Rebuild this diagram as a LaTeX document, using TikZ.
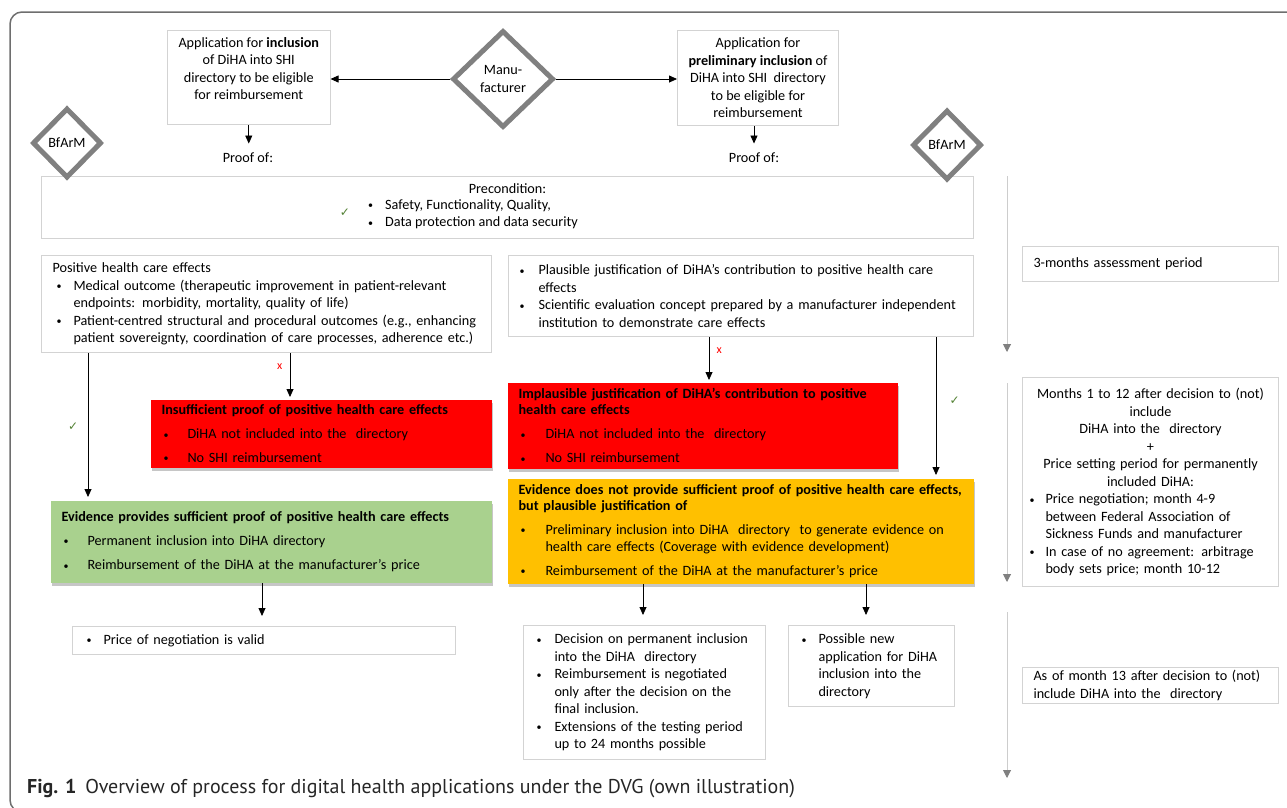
\documentclass[tikz,border=0pt]{standalone}
\usepackage{fontspec}
\setmainfont{Carlito}
\newfontfamily\capfont{PT Sans}
\newfontfamily\symfont{DejaVu Sans}
\usetikzlibrary{shapes.geometric,arrows.meta,shadows}
\definecolor{boxline}{HTML}{D3D3D3}
\definecolor{diagray}{HTML}{808080}
\definecolor{framegray}{HTML}{6E6E6E}
\definecolor{redfill}{HTML}{FF0000}
\definecolor{greenfill}{HTML}{A9D18E}
\definecolor{orangefill}{HTML}{FFC000}
\definecolor{checkgreen}{HTML}{548235}
\definecolor{tlgray}{HTML}{CDCDCD}
\newcommand{\itm}[1][17pt]{\makebox[#1][l]{\raisebox{0.5pt}{\fontsize{10}{10}\selectfont\textbullet}}}
\newcommand{\ind}[1][17pt]{\hspace*{#1}}
\newcommand{\chk}{{\symfont\fontsize{12}{12}\selectfont\color{checkgreen}\char"2713}}
\begin{document}
\begin{tikzpicture}[x=1pt,y=-1pt,font=\fontsize{14.2}{17.5}\selectfont,
	box/.style={draw=boxline,line width=1pt,fill=white,anchor=north west,inner xsep=11pt,inner ysep=0pt,align=left},
	fillbox/.style={box,draw=none,drop shadow={shadow xshift=1pt,shadow yshift=-3pt,opacity=.45}},
	agent/.style={diamond,draw=diagray,line width=5pt,fill=white,inner sep=0pt,aspect=1,align=center},
	arr/.style={-{Triangle[width=7pt,length=8pt]},line width=0.8pt},
	tl/.style={-{Triangle[width=8pt,length=8pt,color=diagray]},draw=tlgray,line width=1pt},
	nolabel/.style={text=red,font=\fontsize{12}{12}\selectfont}]
	\useasboundingbox (0,0) rectangle (1287,807);
	\draw[framegray,line width=1.5pt,rounded corners=12pt] (10,12) rectangle (1300,812);

	\node[box,align=center,minimum width=161pt,minimum height=94pt] (appl) at (167,30) {Application for \textbf{inclusion}\\of DiHA into SHI\\directory to be eligible\\for reimbursement\\\mbox{}};
	\node[box,align=center,minimum width=160pt,minimum height=95pt] (appr) at (677,30) {Application for\\\textbf{preliminary inclusion} of\\DiHA into SHI\ \ directory\\to be eligible for\\reimbursement};
	\node (proofl) at (248,158) {Proof of:};
	\node (proofr) at (754,158) {Proof of:};

	\node[box,minimum width=932pt,minimum height=62pt] (precond) at (41,176) {};
	\node[anchor=north,inner sep=2pt] (precondt) at ([yshift=-5pt]precond.north) {Precondition:};
	\node[anchor=north west,inner sep=0pt,align=left] (prelist) at (368,199) {\itm[17pt]Safety, Functionality, Quality,\\\itm[17pt]Data protection and data security};
	\node (prechk) at (345,213) {\chk};

	\node[box,text width=428pt,minimum height=97pt] (pos) at (41,255) {Positive health care effects\\
		\ind[4pt]\itm Medical outcome (therapeutic improvement in patient-relevant\\
		\ind[21pt]endpoints: morbidity, mortality, quality of life)\\
		\ind[4pt]\itm Patient-centred structural and procedural outcomes (e.g., enhancing\\
		\ind[21pt]patient sovereignty, coordination of care processes, adherence etc.)};
	\node[box,text width=443pt,minimum height=81pt] (plaus) at (508,255) {\itm[19pt]Plausible justification of DiHA’s contribution to positive health care\\
		\ind[19pt]effects\\
		\itm[19pt]Scientific evaluation concept prepared by a manufacturer independent\\
		\ind[19pt]institution to demonstrate care effects};

	\node[fillbox,fill=redfill,text width=319pt,minimum height=68pt] (redl) at (150,399) {\textbf{Insufficient proof of positive health care effects}\\[6.5pt]
		\ind[2pt]\itm[24pt]DiHA not included into the\ \ directory\\[6pt]
		\ind[2pt]\itm[24pt]No SHI reimbursement};
	\node[fillbox,fill=redfill,text width=368pt,minimum height=86pt] (redr) at (507,382) {\textbf{Implausible justification of DiHA’s contribution to positive}\\[-1.5pt]
		\textbf{health care effects}\\[6.5pt]
		\ind[2pt]\itm[25pt]DiHA not included into the\ \ directory\\[6.5pt]
		\ind[2pt]\itm[25pt]No SHI reimbursement};
	\node[fillbox,fill=greenfill,text width=419pt,minimum height=82pt] (green) at (50,500) {\textbf{Evidence provides sufficient proof of positive health care effects}\\[6.5pt]
		\ind[2pt]\itm[24pt]Permanent inclusion into DiHA directory\\[7pt]
		\ind[2pt]\itm[24pt]Reimbursement of the DiHA at the manufacturer’s price};
	\node[fillbox,fill=orangefill,text width=444pt,minimum height=105pt] (orange) at (507,478) {\textbf{Evidence does not provide sufficient proof of positive health care effects,}\\[-1.5pt]
		\textbf{but plausible justification of}\\[6.5pt]
		\ind[2pt]\itm[25pt]Preliminary inclusion into DiHA\ \ directory\ \ to generate evidence on\\[-0.5pt]
		\ind[27pt]health care effects (Coverage with evidence development)\\[6.5pt]
		\ind[2pt]\itm[25pt]Reimbursement of the DiHA at the manufacturer’s price};

	\node[box,inner xsep=14pt,text width=355pt,minimum height=28pt] (price) at (72,626) {\itm Price of negotiation is valid};
	\node[box,inner xsep=13pt,text width=216pt,minimum height=134pt] (decis) at (523,625) {\itm[18pt]Decision on permanent inclusion\\
		\ind[18pt]into the DiHA\ \ directory\\
		\itm[18pt]Reimbursement is negotiated\\
		\ind[18pt]only after the decision on the\\
		\ind[18pt]final inclusion.\\
		\itm[18pt]Extensions of the testing period\\
		\ind[18pt]up to 24 months possible};
	\node[box,inner xsep=13pt,text width=140pt,minimum height=81pt] (possib) at (788,625) {\itm Possible new\\
		\ind application for DiHA\\
		\ind inclusion into the\\
		\ind directory};

	\node[box,text width=234pt,minimum height=35pt] (assess) at (1022,246) {3-months assessment period};
	\node[box,inner xsep=7pt,text width=242pt,minimum height=209pt,align=center] (months) at (1022,377) {Months 1 to 12 after decision to (not)\\
		include\\
		DiHA into the\ \ directory\\
		+\\
		Price setting period for permanently\\
		included DiHA:\\
		\makebox[242pt][l]{\itm[16pt]Price negotiation; month 4-9}\\
		\makebox[242pt][l]{\ind[16pt]between Federal Association of}\\
		\makebox[242pt][l]{\ind[16pt]Sickness Funds and manufacturer}\\
		\makebox[242pt][l]{\itm[16pt]In case of no agreement: arbitrage}\\
		\makebox[242pt][l]{\ind[16pt]body sets price; month 10-12}};
	\node[box,text width=234pt,minimum height=36pt] (asof) at (1022,667) {As of month 13 after decision to (not)\\
		include DiHA into the\ \ directory};

	\node[agent,minimum width=101pt,minimum height=97pt] (manu) at (503,79) {Manu-\\facturer};
	\node[agent,minimum width=69pt,minimum height=70pt] (bfl) at (67,143) {BfArM};
	\node[agent,minimum width=69pt,minimum height=70pt] (bfr) at (947,145) {BfArM};

	\draw[arr] (manu.west) -- (manu.west -| appl.east);
	\draw[arr] (manu.east) -- (manu.east -| appr.west);
	\draw[arr,shorten >=6pt] (appl.south) -- (appl.south |- proofl.north);
	\draw[arr,shorten >=6pt] (proofr.north |- appr.south) -- (proofr.north);

	\coordinate (posok) at ([xshift=47pt]pos.south west);
	\coordinate (posno) at ([xshift=249pt]pos.south west);
	\coordinate (plno) at ([xshift=201pt]plaus.south west);
	\coordinate (plok) at ([xshift=428pt]plaus.south west);
	\coordinate (grout) at ([xshift=212pt]green.south west);
	\coordinate (orout1) at ([xshift=136pt]orange.south west);
	\coordinate (orout2) at ([xshift=359pt]orange.south west);
	\draw[arr,shorten >=3pt] (posok) -- (posok |- green.north) node[midway,left=6pt]{\chk};
	\draw[arr,shorten >=2pt] (posno) -- (posno |- redl.north) node[pos=.3,left=4pt,nolabel]{x};
	\draw[arr,shorten >=2pt] (plno) -- (plno |- redr.north) node[pos=.3,right=4pt,nolabel]{x};
	\draw[arr,shorten >=3pt] (plok) -- (plok |- orange.north) node[pos=.45,right=10pt]{\chk};
	\draw[arr,shorten >=10pt] (grout) -- (grout |- price.north);
	\draw[arr,shorten >=10pt] (orout1) -- (orout1 |- decis.north);
	\draw[arr,shorten >=10pt] (orout2) -- (orout2 |- possib.north);

	\coordinate (tla) at (1007,176);
	\coordinate (tlb) at (1007,352);
	\coordinate (tlc) at (1007,383);
	\coordinate (tld) at (1007,582);
	\coordinate (tle) at (1007,612);
	\coordinate (tlf) at (1007,778);
	\draw[tl] (tla) -- (tlb);
	\draw[tl] (tlc) -- (tld);
	\draw[tl] (tle) -- (tlf);

	\node[anchor=west,inner sep=0pt,font=\capfont\fontsize{20}{24}\selectfont,text=black!85] (caption) at (27,789) {\textbf{Fig. 1}\hspace{9pt}Overview of process for digital health applications under the DVG (own illustration)};
\end{tikzpicture}
\end{document}
